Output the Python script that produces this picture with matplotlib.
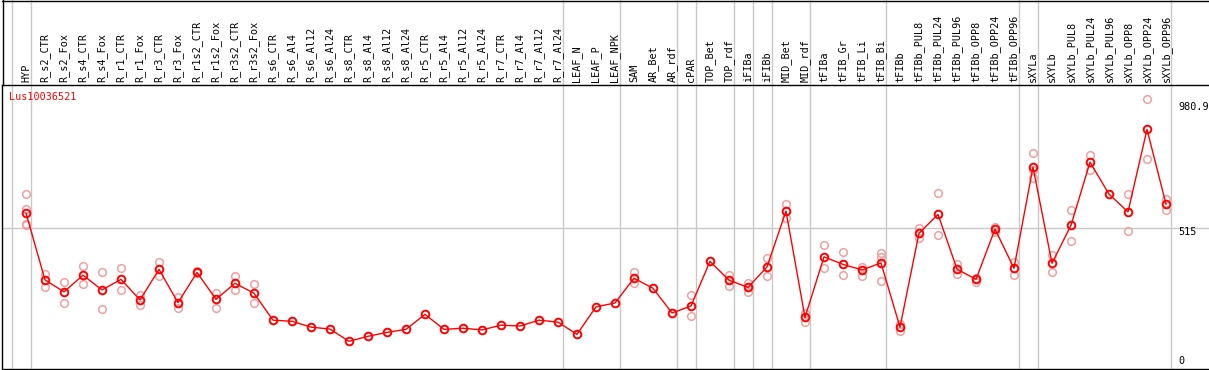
import matplotlib
matplotlib.use("Agg")
import matplotlib.pyplot as plt
from matplotlib.transforms import blended_transform_factory, offset_copy
from matplotlib.lines import Line2D
import numpy as np

# ---------------- data ----------------
groups = [
    ["HYP"],
    ["R_s2_CTR", "R_s2_Fox", "R_s4_CTR", "R_s4_Fox", "R_r1_CTR", "R_r1_Fox",
     "R_r3_CTR", "R_r3_Fox", "R_r1s2_CTR", "R_r1s2_Fox", "R_r3s2_CTR", "R_r3s2_Fox",
     "R_s6_CTR", "R_s6_Al4", "R_s6_Al12", "R_s6_Al24",
     "R_s8_CTR", "R_s8_Al4", "R_s8_Al12", "R_s8_Al24",
     "R_r5_CTR", "R_r5_Al4", "R_r5_Al12", "R_r5_Al24",
     "R_r7_CTR", "R_r7_Al4", "R_r7_Al12", "R_r7_Al24"],
    ["LEAF_N", "LEAF_P", "LEAF_NPK"],
    ["SAM", "AR_Bet", "AR_rdf"],
    ["cPAR"],
    ["TOP_Bet", "TOP_rdf"],
    ["iFIBa"],
    ["iFIBb"],
    ["MID_Bet", "MID_rdf"],
    ["tFIBa", "tFIB_Gr", "tFIB_Li", "tFIB_Bi"],
    ["tFIBb", "tFIBb_PUL8", "tFIBb_PUL24", "tFIBb_PUL96",
     "tFIBb_OPP8", "tFIBb_OPP24", "tFIBb_OPP96"],
    ["sXYLa"],
    ["sXYLb", "sXYLb_PUL8", "sXYLb_PUL24", "sXYLb_PUL96",
     "sXYLb_OPP8", "sXYLb_OPP24", "sXYLb_OPP96"],
]
categories = [c for g in groups for c in g]

means = [569, 328, 285, 345, 292, 330, 256, 366, 246, 355, 258, 316, 280,
         183, 179, 158, 151, 107, 125, 139, 150, 204, 150, 154, 148, 165, 162, 183, 176,
         132, 231, 245,
         334, 298, 209,
         234,
         395, 327,
         301,
         375,
         576, 193,
         411, 384, 364, 389,
         158, 496, 564, 367, 330, 511, 370,
         734,
         388, 525, 752, 637, 573, 870, 601]

replicates = [
    [637, 583, 529, 526],
    [349, 303], [319, 244], [377, 312], [355, 222], [370, 292], [275, 239],
    [391, 341], [265, 228], [359, 352], [282, 228], [341, 293], [314, 246],
    [], [], [], [], [], [], [], [], [], [], [], [], [], [], [], [],
    [], [], [],
    [357, 318], [], [],
    [273, 197],
    [], [345, 307],
    [316, 286],
    [407, 341],
    [601, 552], [210, 176],
    [453, 370], [427, 345], [376, 342], [426, 412, 323],
    [169, 144], [516, 479], [640, 489], [385, 349], [336, 322], [520, 502], [394, 346],
    [784, 724, 694],
    [418, 355], [579, 468], [778, 723], [], [636, 503], [980.9, 763], [621, 581],
]

gene_id = "Lus10036521"
y_ticks = [0, 515, 980.9]
y_tick_labels = ["0", "515", "980.9"]

assert len(categories) == len(means) == len(replicates)

# ---------------- layout ----------------
W, H = 1209, 370
fig = plt.figure(figsize=(W / 100, H / 100), dpi=100)
left_px, right_px, top_px, bottom_px = 2, 1209, 85, 369
ax = fig.add_axes([left_px / W, (H - bottom_px) / H,
                   (right_px - left_px) / W, (bottom_px - top_px) / H])
col0, step = 26, 19
ax.set_xlim((left_px - col0) / step, (right_px - col0) / step)
ax.set_ylim(7.2, 1030)
ax.set_xticks([])
ax.set_yticks([])
for s in ["left", "top", "bottom"]:
    ax.spines[s].set_color("black")
    ax.spines[s].set_linewidth(1)
ax.spines["right"].set_visible(False)

grid_c = "#c8c8c8"
mono = "DejaVu Sans Mono"
fs = 7.3

# group separators
bounds = [-1] + list(np.cumsum([len(g) for g in groups]) - 1)
ext = bottom_px / (bottom_px - top_px)
for b in bounds:
    ax.axvline(b + 0.25, ymin=0, ymax=ext, color=grid_c, lw=1, clip_on=False, zorder=0.5)

# horizontal reference line
ax.axhline(y_ticks[1], color=grid_c, lw=1, zorder=0.5)

# outer frame pieces above the plot area
fig.add_artist(Line2D([left_px / W, 1], [1 - 0.5 / H, 1 - 0.5 / H], color="black", lw=1))
fig.add_artist(Line2D([(left_px + 0.5) / W, (left_px + 0.5) / W], [1, (H - top_px) / H],
                      color="black", lw=1))

# column labels
lab_tr = blended_transform_factory(ax.transData, ax.transAxes)
xs = np.arange(len(categories))
for i, c in enumerate(categories):
    ax.text(xs[i], 1 + 3 / (bottom_px - top_px), c, rotation=90, ha="center", va="bottom",
            transform=lab_tr, fontsize=fs, family=mono, clip_on=False)

# replicates
for i, reps in enumerate(replicates):
    if reps:
        ax.plot([xs[i]] * len(reps), reps, linestyle="none", marker="o", ms=5.5,
                mfc="none", mec="#f0a0a0", mew=1.1, zorder=2)

# mean line + markers
ax.plot(xs, means, color="red", lw=1, zorder=3)
ax.plot(xs, means, linestyle="none", marker="o", ms=5.5, mfc="none", mec="red",
        mew=1.4, zorder=4)

# gene id
ax.text((9.3 - left_px) / (right_px - left_px), (bottom_px - 97.3) / (bottom_px - top_px),
        gene_id, color="red", fontsize=fs, family=mono, ha="left", va="center",
        transform=ax.transAxes)

# right-side value labels
lx = (1178 - left_px) / (right_px - left_px)
vtr = blended_transform_factory(ax.transAxes, ax.transData)
ax.text(lx, y_ticks[2], y_tick_labels[2], transform=offset_copy(vtr, fig=fig, y=-3.5, units="dots"),
        ha="left", va="top", fontsize=fs, family=mono)
ax.text(lx, y_ticks[1], y_tick_labels[1], transform=offset_copy(vtr, fig=fig, y=1.0, units="dots"),
        ha="left", va="top", fontsize=fs, family=mono)
ax.text(lx, 3.0 / (bottom_px - top_px), y_tick_labels[0], transform=ax.transAxes,
        ha="left", va="bottom", fontsize=fs, family=mono)

fig.savefig("out.png", dpi=100)
